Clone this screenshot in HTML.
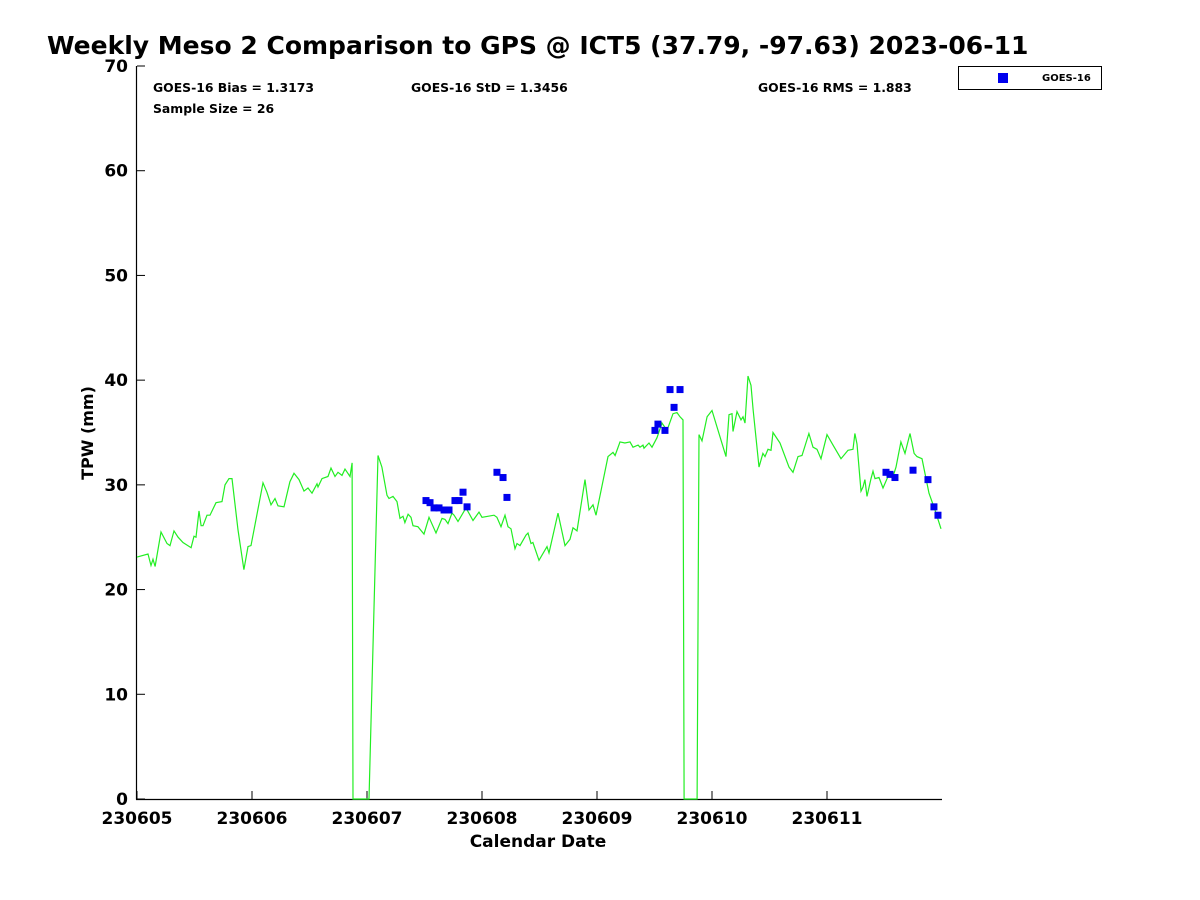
<!DOCTYPE html>
<html><head><meta charset="utf-8"><style>
body{margin:0;background:#fff;}
svg{display:block;font-family:"DejaVu Sans","Liberation Sans",sans-serif;}
</style></head><body>
<svg id="chart" width="1200" height="900">
<text x="47" y="54" font-size="25" font-weight="bold" fill="#000">Weekly Meso 2 Comparison to GPS @ ICT5 (37.79, -97.63) 2023-06-11</text>
<g id="axes"></g>
<g id="series"></g>
<text x="153" y="92" font-size="12.4" font-weight="bold">GOES-16 Bias = 1.3173</text>
<text x="411" y="92" font-size="12.4" font-weight="bold">GOES-16 StD = 1.3456</text>
<text x="758" y="92" font-size="12.4" font-weight="bold">GOES-16 RMS = 1.883</text>
<text x="153" y="113" font-size="12.4" font-weight="bold">Sample Size = 26</text>
<g>
<rect x="958.5" y="66.5" width="143" height="23" fill="#fff" stroke="#000" stroke-width="1"/>
<rect x="998" y="73" width="10" height="10" fill="#0000ee"/>
<text x="1042" y="81" font-size="10" font-weight="bold">GOES-16</text>
</g>
<text x="538" y="847" font-size="17" font-weight="bold" text-anchor="middle">Calendar Date</text>
<text transform="translate(93,433) rotate(-90)" font-size="16" font-weight="bold" text-anchor="middle">TPW (mm)</text>
</svg>
<script>
const gpsDays=[0,.096,.122,.139,.157,.209,.261,.287,.322,.357,.4,.47,.496,.513,.539,.557,.574,.609,.635,.687,.739,.765,.8,.826,.878,.93,.965,.991,1.096,1.13,1.165,1.2,1.226,1.278,1.33,1.365,1.409,1.452,1.487,1.522,1.565,1.574,1.609,1.661,1.687,1.722,1.748,1.783,1.809,1.852,1.870,1.878,2.017,2.096,2.13,2.174,2.191,2.226,2.261,2.287,2.313,2.33,2.357,2.383,2.4,2.443,2.496,2.539,2.6,2.652,2.678,2.704,2.739,2.757,2.791,2.861,2.922,2.974,3.0,3.104,3.13,3.165,3.2,3.226,3.252,3.287,3.304,3.33,3.383,3.4,3.426,3.443,3.496,3.565,3.583,3.661,3.722,3.765,3.791,3.826,3.896,3.93,3.965,3.991,4.096,4.139,4.157,4.2,4.243,4.287,4.313,4.357,4.374,4.4,4.409,4.452,4.478,4.522,4.565,4.609,4.661,4.696,4.722,4.748,4.757,4.870,4.887,4.913,4.957,5.0,5.122,5.148,5.174,5.183,5.217,5.252,5.27,5.287,5.313,5.339,5.357,5.409,5.443,5.461,5.487,5.513,5.53,5.591,5.67,5.704,5.748,5.783,5.843,5.878,5.913,5.948,6.0,6.052,6.122,6.183,6.226,6.243,6.261,6.296,6.313,6.33,6.348,6.383,6.4,6.417,6.452,6.487,6.53,6.574,6.6,6.643,6.678,6.722,6.757,6.783,6.826,6.887,6.939,6.991];
const gpsTpw=[23.1,23.4,22.3,22.9,22.2,25.5,24.4,24.2,25.6,25.0,24.5,24.0,25.1,25.0,27.5,26.1,26.1,27.1,27.1,28.3,28.4,30.0,30.6,30.6,25.7,21.9,24.1,24.2,30.2,29.3,28.1,28.7,28.0,27.9,30.3,31.1,30.5,29.4,29.7,29.2,30.1,29.8,30.6,30.8,31.6,30.8,31.2,30.9,31.5,30.8,32.1,0,0,32.8,31.7,29.0,28.7,28.9,28.4,26.8,27.0,26.4,27.2,26.9,26.1,26.0,25.3,26.9,25.4,26.8,26.7,26.3,27.3,27.1,26.5,27.8,26.6,27.4,26.9,27.1,26.9,26.0,27.1,26.0,25.8,23.9,24.4,24.2,25.2,25.4,24.4,24.5,22.8,24.1,23.5,27.3,24.2,24.8,25.9,25.6,30.5,27.6,28.1,27.1,32.7,33.1,32.8,34.1,34.0,34.1,33.6,33.8,33.6,33.8,33.5,34.0,33.6,34.5,35.9,35.2,36.8,36.9,36.5,36.2,0,0,34.8,34.2,36.5,37.1,32.7,36.7,36.8,35.1,37.0,36.2,36.5,35.9,40.4,39.5,37.2,31.7,33.0,32.7,33.4,33.3,35.0,34.0,31.7,31.2,32.7,32.8,34.9,33.6,33.4,32.5,34.8,33.8,32.5,33.3,33.4,34.9,33.9,29.4,29.8,30.5,28.9,30.6,31.3,30.6,30.7,29.7,30.8,30.8,31.7,34.1,33.0,34.9,33.0,32.7,32.5,29.2,27.6,25.8];
const goesDays=[2.513,2.548,2.583,2.626,2.670,2.713,2.765,2.8,2.835,2.870,3.130,3.183,3.217,4.504,4.530,4.591,4.635,4.670,4.722,6.513,6.548,6.591,6.748,6.878,6.930,6.965];
const goesTpw=[28.5,28.3,27.8,27.8,27.6,27.6,28.5,28.5,29.3,27.9,31.2,30.7,28.8,35.2,35.8,35.2,39.1,37.4,39.1,31.2,31.0,30.7,31.4,30.5,27.9,27.1];
const xTickLabels=["230605","230606","230607","230608","230609","230610","230611"];
const yTicks=[0,10,20,30,40,50,60,70];

const NS="http://www.w3.org/2000/svg";
const X0=137,X1=942,Y0=799,Y1=66,XMAX=7,YMAX=70;
const xs=d=>X0+d/XMAX*(X1-X0);
const ys=v=>Y0-v/YMAX*(Y0-Y1);
function mk(tag,attrs,parent){const e=document.createElementNS(NS,tag);for(const k in attrs)e.setAttribute(k,attrs[k]);parent.appendChild(e);return e;}
const ax=document.getElementById('axes');
let l=mk('line',{x1:X0-.5,y1:Y1,x2:X0-.5,y2:Y0+.5,stroke:'#000','stroke-width':1.2},ax);


l=mk('line',{x1:X0-1,y1:Y0+.5,x2:X1,y2:Y0+.5,stroke:'#000','stroke-width':1.2},ax);


yTicks.forEach(v=>{
  const y=ys(v);
  mk('line',{x1:X0,y1:y,x2:X0+8,y2:y,stroke:'#000'},ax);
  const t=mk('text',{x:X0-9,y:y+6,'font-size':17,'font-weight':'bold','text-anchor':'end'},ax);
  t.textContent=v;
  
  
});
xTickLabels.forEach((s,i)=>{
  const x=xs(i);
  mk('line',{x1:x,y1:Y0,x2:x,y2:Y0-8,stroke:'#000'},ax);
  const t=mk('text',{x:x,y:Y0+25,'font-size':17,'font-weight':'bold','text-anchor':'middle'},ax);
  t.textContent=s;
  
  
});
const sg=document.getElementById('series');
const pts=gpsDays.map((d,i)=>xs(d).toFixed(1)+','+ys(gpsTpw[i]).toFixed(1)).join(' ');
const pl=mk('polyline',{points:pts,fill:'none',stroke:'#22ee22','stroke-width':1.2},sg);


goesDays.forEach((d,i)=>{
  const r=mk('rect',{x:xs(d)-3.5,y:ys(goesTpw[i])-3.5,width:7,height:7,fill:'#0000ee'},sg);
  
  
});
</script>
</body></html>
